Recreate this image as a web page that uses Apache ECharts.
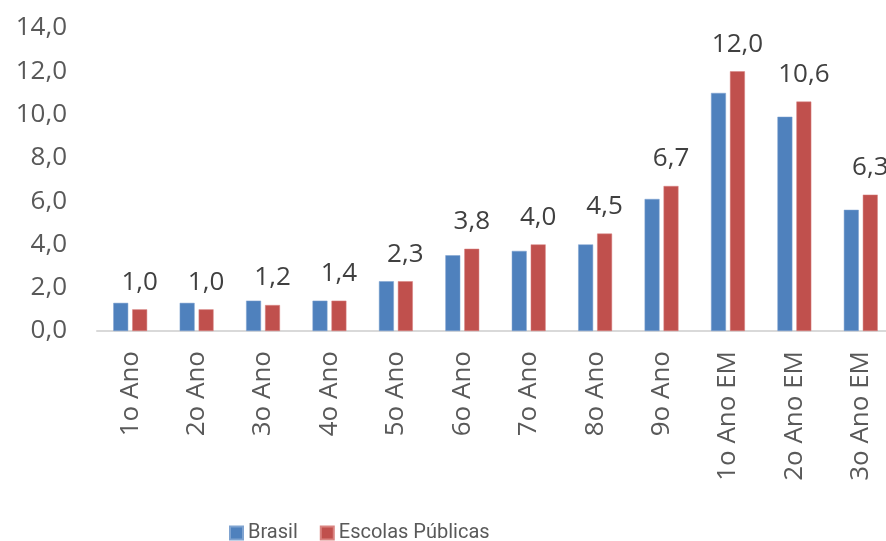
<!DOCTYPE html>
<html>
<head>
<meta charset="utf-8">
<script src="https://cdn.jsdelivr.net/npm/echarts@6/dist/echarts.min.js"></script>
<style>
  html, body { margin: 0; padding: 0; background: #fff; }
  #chart { width: 886px; height: 541px; }
</style>
</head>
<body>
<div id="chart"></div>
<script>
const categories = ['1o Ano', '2o Ano', '3o Ano', '4o Ano', '5o Ano', '6o Ano', '7o Ano', '8o Ano', '9o Ano', '1o Ano EM', '2o Ano EM', '3o Ano EM']
const brasil = [1.3, 1.3, 1.4, 1.4, 2.3, 3.5, 3.7, 4.0, 6.1, 11.0, 9.9, 5.6]
const escolasPublicas = [1.0, 1.0, 1.2, 1.4, 2.3, 3.8, 4.0, 4.5, 6.7, 12.0, 10.6, 6.3]

const fmt = (v) => v.toFixed(1).replace('.', ',')
const font = 'Open Sans'

const chart = echarts.init(document.getElementById('chart'))
chart.setOption({
  backgroundColor: '#fff',
  animation: false,
  textStyle: { fontFamily: font },
  grid: { left: 97, top: 28, right: -8, bottom: 210, containLabel: false, outerBoundsMode: 'none' },
  legend: {
    left: 224,
    top: 518,
    itemWidth: 13,
    itemHeight: 13,
    itemGap: 22,
    icon: 'rect',
    textStyle: { fontFamily: 'Roboto', fontSize: 20, color: '#595959' },
    data: ['Brasil', 'Escolas Públicas']
  },
  xAxis: {
    type: 'category',
    data: categories,
    axisLine: { lineStyle: { color: '#d9d9d9', width: 2 } },
    axisTick: { show: false },
    axisLabel: { rotate: 90, margin: 20, fontSize: 26, color: '#595959', fontFamily: font }
  },
  yAxis: {
    type: 'value',
    min: 0,
    max: 14,
    interval: 2,
    axisLine: { show: false },
    axisTick: { show: false },
    splitLine: { show: false },
    axisLabel: { margin: 30, fontSize: 26, color: '#595959', fontFamily: font, formatter: fmt }
  },
  series: [
    {
      name: 'Brasil',
      type: 'bar',
      data: brasil,
      barGap: '27%',
      barCategoryGap: '49%',
      itemStyle: { color: '#4f81bd', borderColor: '#7fa3d0', borderWidth: 0.5 }
    },
    {
      name: 'Escolas Públicas',
      type: 'bar',
      data: escolasPublicas,
      itemStyle: { color: '#c0504d', borderColor: '#d98380', borderWidth: 0.5 },
      label: {
        show: true,
        position: 'top',
        distance: 14,
        fontSize: 26,
        color: '#404040',
        fontFamily: font,
        formatter: (p) => fmt(p.value)
      }
    }
  ]
})
</script>
</body>
</html>
